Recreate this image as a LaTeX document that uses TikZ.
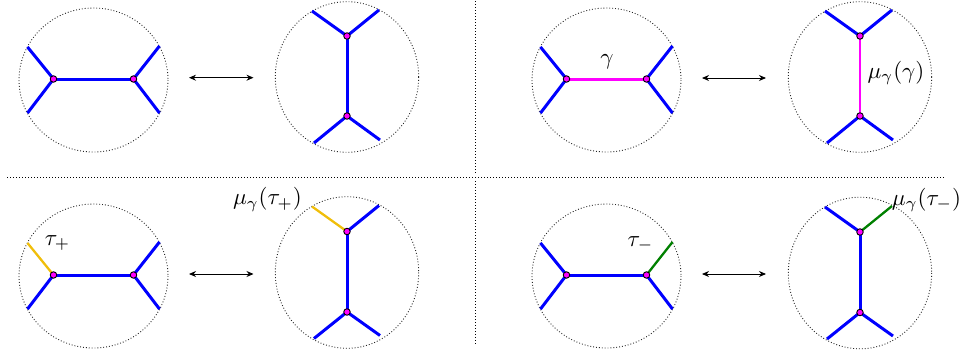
\documentclass[tikz,border=0pt]{standalone}
\usetikzlibrary{arrows.meta}
\definecolor{myblue}{RGB}{0,0,255}
\definecolor{mymag}{RGB}{255,0,255}
\definecolor{myyel}{RGB}{240,190,10}
\definecolor{mygreen}{RGB}{0,128,0}
\tikzset{
  circ/.style={dotted, line width=0.9pt, black!85},
  edge/.style={myblue, line width=3pt},
  thinedge/.style={line width=2.3pt},
  vert/.style={circle, fill=mymag, draw=black, line width=0.9pt, inner sep=0pt, minimum size=6.5pt},
  swap/.style={{Stealth[length=7pt,width=6pt]}-{Stealth[length=7pt,width=6pt]}, line width=0.9pt},
  divider/.style={dotted, line width=1pt},
  lab/.style={scale=2.3, inner sep=0pt}
}
\begin{document}
\begin{tikzpicture}[x=1pt,y=-1pt]
\useasboundingbox (0,0) rectangle (962,356);

% dividers
\coordinate (v1a) at (475.5,1); \coordinate (v1b) at (475.5,173);
\coordinate (h1a) at (7,177); \coordinate (h1b) at (945,177);
\coordinate (v2a) at (475.5,181); \coordinate (v2b) at (475.5,345);
\draw[divider] (v1a) -- (v1b);
\draw[divider] (h1a) -- (h1b);
\draw[divider] (v2a) -- (v2b);

% ---------- Panel 1: horizontal ----------
\begin{scope}[shift={(93.5,80)}]
\draw[circ] (0,0) ellipse [x radius=74.5, y radius=72];
\coordinate (p1lu) at (-66,-33); \coordinate (p1ld) at (-66,33);
\coordinate (p1ru) at (66,-34); \coordinate (p1rd) at (66,33);
\coordinate (p1L) at (-40,-1); \coordinate (p1R) at (40,-1);
\draw[edge] (p1lu) -- (p1L) -- (p1ld);
\draw[edge] (p1ru) -- (p1R) -- (p1rd);
\draw[edge] (p1L) -- (p1R);
\node[vert] (p1Ln) at (p1L) {}; \node[vert] (p1Rn) at (p1R) {};
\end{scope}

% ---------- Panel 2: vertical ----------
\begin{scope}[shift={(347,77)}]
\draw[circ] (0,0) ellipse [x radius=71.7, y radius=75.3];
\coordinate (p2tl) at (-35,-66); \coordinate (p2tr) at (32,-67);
\coordinate (p2bl) at (-33,66); \coordinate (p2br) at (33,63);
\coordinate (p2T) at (0,-41); \coordinate (p2B) at (0,39);
\draw[edge] (p2tl) -- (p2T) -- (p2tr);
\draw[edge] (p2bl) -- (p2B) -- (p2br);
\draw[edge] (p2T) -- (p2B);
\node[vert] (p2Tn) at (p2T) {}; \node[vert] (p2Bn) at (p2B) {};
\end{scope}

\coordinate (a1l) at (189,77.7); \coordinate (a1r) at (253.5,77.7);
\draw[swap] (a1l) -- (a1r);

% ---------- Panel 3: horizontal with gamma ----------
\begin{scope}[shift={(606.5,80)}]
\draw[circ] (0,0) ellipse [x radius=74.5, y radius=72];
\coordinate (p3lu) at (-66,-33); \coordinate (p3ld) at (-66,33);
\coordinate (p3ru) at (66,-34); \coordinate (p3rd) at (66,33);
\coordinate (p3L) at (-40,-1); \coordinate (p3R) at (40,-1);
\draw[edge] (p3lu) -- (p3L) -- (p3ld);
\draw[edge] (p3ru) -- (p3R) -- (p3rd);
\draw[edge, mymag] (p3L) -- (p3R);
\node[vert] (p3Ln) at (p3L) {}; \node[vert] (p3Rn) at (p3R) {};
\end{scope}
\node[lab] (g1) at (607,62) {$\gamma$};

% ---------- Panel 4: vertical with mu(gamma) ----------
\begin{scope}[shift={(860,77)}]
\draw[circ] (0,0) ellipse [x radius=71.7, y radius=75.3];
\coordinate (p4tl) at (-35,-66); \coordinate (p4tr) at (32,-67);
\coordinate (p4bl) at (-33,66); \coordinate (p4br) at (33,63);
\coordinate (p4T) at (0,-41); \coordinate (p4B) at (0,39);
\draw[edge] (p4tl) -- (p4T) -- (p4tr);
\draw[edge] (p4bl) -- (p4B) -- (p4br);
\draw[thinedge, mymag] (p4T) -- (p4B);
\node[vert] (p4Tn) at (p4T) {}; \node[vert] (p4Bn) at (p4B) {};
\end{scope}
\node[lab] (g2) at (896,73) {$\mu_\gamma(\gamma)$};

\coordinate (a2l) at (702,78); \coordinate (a2r) at (766,78);
\draw[swap] (a2l) -- (a2r);

% ---------- Panel 5: horizontal with tau+ ----------
\begin{scope}[shift={(93.5,276)}]
\draw[circ] (0,0) ellipse [x radius=74.5, y radius=72];
\coordinate (p5lu) at (-66,-33); \coordinate (p5ld) at (-66,33);
\coordinate (p5ru) at (66,-34); \coordinate (p5rd) at (66,33);
\coordinate (p5L) at (-40,-1); \coordinate (p5R) at (40,-1);
\draw[thinedge, myyel] (p5lu) -- (p5L);
\draw[edge] (p5L) -- (p5ld);
\draw[edge] (p5ru) -- (p5R) -- (p5rd);
\draw[edge] (p5L) -- (p5R);
\node[vert] (p5Ln) at (p5L) {}; \node[vert] (p5Rn) at (p5R) {};
\end{scope}
\node[lab] (t1) at (57.5,243) {$\tau_+$};

% ---------- Panel 6: vertical with mu(tau+) ----------
\begin{scope}[shift={(347,272.5)}]
\draw[circ] (0,0) ellipse [x radius=71.7, y radius=75.8];
\coordinate (p6tl) at (-35,-66); \coordinate (p6tr) at (32,-67);
\coordinate (p6bl) at (-33,66); \coordinate (p6br) at (33,63);
\coordinate (p6T) at (0,-41); \coordinate (p6B) at (0,39.5);
\draw[thinedge, myyel] (p6tl) -- (p6T);
\draw[edge] (p6T) -- (p6tr);
\draw[edge] (p6bl) -- (p6B) -- (p6br);
\draw[edge] (p6T) -- (p6B);
\node[vert] (p6Tn) at (p6T) {}; \node[vert] (p6Bn) at (p6B) {};
\end{scope}
\node[lab] (t2) at (267.5,199.5) {$\mu_\gamma(\tau_+)$};

\coordinate (a3l) at (189,274); \coordinate (a3r) at (253.5,274);
\draw[swap] (a3l) -- (a3r);

% ---------- Panel 7: horizontal with tau- ----------
\begin{scope}[shift={(606.5,276)}]
\draw[circ] (0,0) ellipse [x radius=74.5, y radius=72];
\coordinate (p7lu) at (-66,-33); \coordinate (p7ld) at (-66,33);
\coordinate (p7ru) at (66,-34); \coordinate (p7rd) at (66,33);
\coordinate (p7L) at (-40,-1); \coordinate (p7R) at (40,-1);
\draw[edge] (p7lu) -- (p7L) -- (p7ld);
\draw[thinedge, mygreen] (p7ru) -- (p7R);
\draw[edge] (p7R) -- (p7rd);
\draw[edge] (p7L) -- (p7R);
\node[vert] (p7Ln) at (p7L) {}; \node[vert] (p7Rn) at (p7R) {};
\end{scope}
\node[lab] (t3) at (640.5,244) {$\tau_-$};

% ---------- Panel 8: vertical with mu(tau-) ----------
\begin{scope}[shift={(860,273)}]
\draw[circ] (0,0) ellipse [x radius=71.7, y radius=75.8];
\coordinate (p8tl) at (-35,-66); \coordinate (p8tr) at (32,-67);
\coordinate (p8bl) at (-33,66); \coordinate (p8br) at (33,63);
\coordinate (p8T) at (0,-41); \coordinate (p8B) at (0,39.5);
\draw[edge] (p8tl) -- (p8T);
\draw[thinedge, mygreen] (p8T) -- (p8tr);
\draw[edge] (p8bl) -- (p8B) -- (p8br);
\draw[edge] (p8T) -- (p8B);
\node[vert] (p8Tn) at (p8T) {}; \node[vert] (p8Bn) at (p8B) {};
\end{scope}
\node[lab] (t4) at (926.5,200) {$\mu_\gamma(\tau_-)$};

\coordinate (a4l) at (702,274); \coordinate (a4r) at (766,274);
\draw[swap] (a4l) -- (a4r);
\end{tikzpicture}
\end{document}
